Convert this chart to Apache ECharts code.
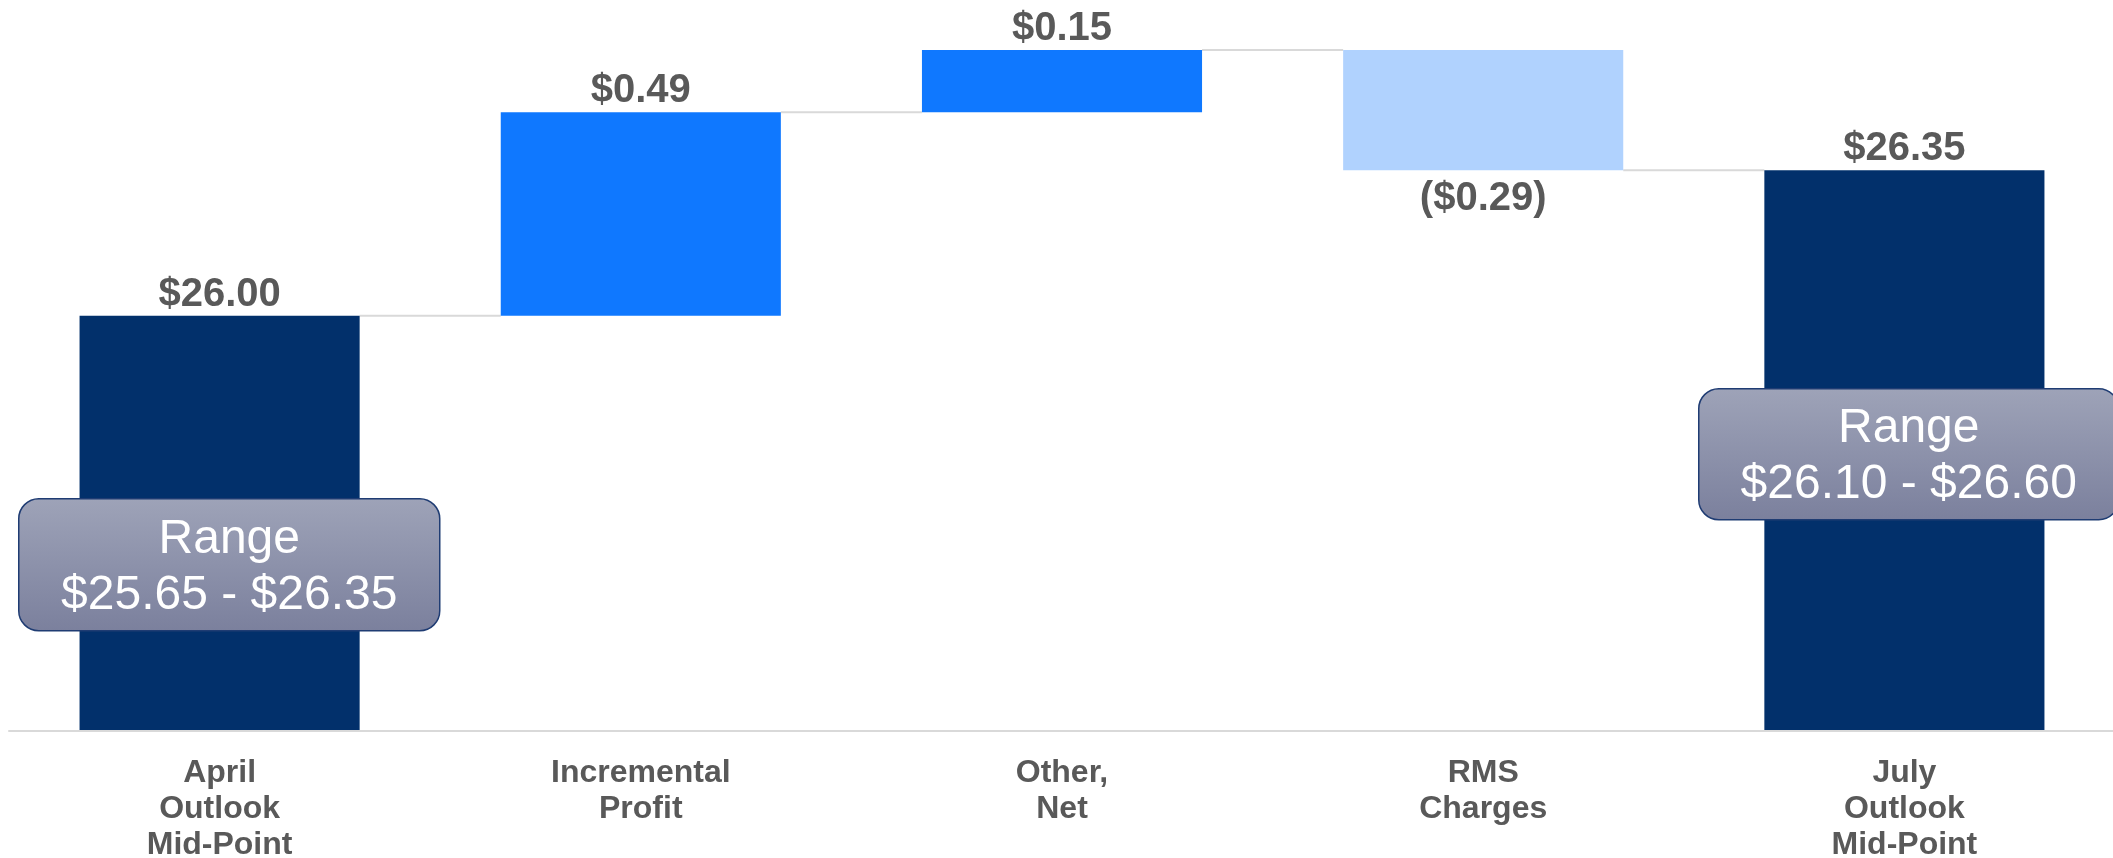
<!DOCTYPE html>
<html>
<head>
<meta charset="utf-8">
<script src="https://cdn.jsdelivr.net/npm/echarts@6/dist/echarts.min.js"></script>
<style>
html,body{margin:0;padding:0;background:#fff;}
#chart{width:2113px;height:858px;}
</style>
</head>
<body>
<div id="chart"></div>
<script>
// ---- data ----
var categories = ['April\nOutlook\nMid-Point', 'Incremental\nProfit', 'Other,\nNet', 'RMS\nCharges', 'July\nOutlook\nMid-Point'];
var changes = [26.00, 0.49, 0.15, -0.29, 26.35];
var isTotal = [true, false, false, false, true];
var rangeLow = [25.65, null, null, null, 26.10];
var rangeHigh = [26.35, null, null, null, 26.60];

// ---- derived waterfall values ----
var FONT = '"Liberation Sans", Arial, sans-serif';
var colors = { total: '#02306B', up: '#0F78FF', down: '#B0D2FE' };
var baseVals = [], barVals = [], levels = [];
var running = 0;
for (var i = 0; i < changes.length; i++) {
  var v = changes[i];
  if (isTotal[i]) {
    baseVals.push(0);
    running = v;
    barVals.push({ value: v, itemStyle: { color: colors.total }, label: { position: 'top', distance: 1 } });
  } else if (v >= 0) {
    baseVals.push(running);
    running = +(running + v).toFixed(2);
    barVals.push({ value: v, itemStyle: { color: colors.up }, label: { position: 'top', distance: 1 } });
  } else {
    running = +(running + v).toFixed(2);
    baseVals.push(running);
    barVals.push({ value: -v, itemStyle: { color: colors.down }, label: { position: 'bottom', distance: 9 } });
  }
  if (i < changes.length - 1) levels.push([i, running]);
}
function fmt(v) {
  var s = '$' + Math.abs(v).toFixed(2);
  return v < 0 ? '(' + s + ')' : s;
}

var BAR_RATIO = 0.665;
var chart = echarts.init(document.getElementById('chart'));
var option = {
  animation: false,
  backgroundColor: '#ffffff',
  grid: { left: 9, right: -2, top: 25, bottom: 127, containLabel: false, outerBoundsMode: 'none' },
  xAxis: {
    type: 'category',
    data: categories,
    axisLine: { show: true, lineStyle: { color: '#D9D9D9', width: 2 } },
    axisTick: { show: false },
    axisLabel: {
      color: '#595959', fontFamily: FONT, fontWeight: 'bold', fontSize: 32,
      lineHeight: 36, margin: 24, interval: 0
    },
    z: 3
  },
  yAxis: {
    type: 'value', min: 25, max: 26.7,
    show: false,
    splitLine: { show: false }
  },
  series: [
    {
      type: 'bar', stack: 'wf', data: baseVals,
      barWidth: (BAR_RATIO * 100) + '%',
      itemStyle: { color: 'rgba(0,0,0,0)' },
      silent: true
    },
    {
      type: 'bar', stack: 'wf',
      data: barVals,
      barWidth: (BAR_RATIO * 100) + '%',
      label: {
        show: true, color: '#595959', fontFamily: FONT, fontWeight: 'bold', fontSize: 40,
        formatter: function (p) { return fmt(changes[p.dataIndex]); }
      }
    },
    {
      type: 'custom',
      data: levels,
      z: 1,
      renderItem: function (params, api) {
        var a = api.coord([api.value(0), api.value(1)]);
        var b = api.coord([api.value(0) + 1, api.value(1)]);
        var half = api.size([1, 0])[0] * BAR_RATIO / 2;
        return {
          type: 'line',
          shape: { x1: a[0] + half, y1: a[1], x2: b[0] - half, y2: b[1] },
          style: { stroke: '#D9D9D9', lineWidth: 2 }
        };
      }
    }
  ]
};
chart.setOption(option);

// ---- range annotation boxes ----
function rangeBox(idx, left, top, w, h) {
  var text = 'Range\n' + fmt(rangeLow[idx]) + ' - ' + fmt(rangeHigh[idx]);
  return {
    type: 'group', left: left, top: top, z: 100,
    children: [
      {
        type: 'rect', z: 100,
        shape: { x: 0, y: 0, width: w, height: h, r: 20 },
        style: {
          fill: new echarts.graphic.LinearGradient(0, 0, 0, 1, [
            { offset: 0, color: '#9EA3B8' },
            { offset: 1, color: '#7B809D' }
          ]),
          stroke: '#1F3C73', lineWidth: 1.5
        }
      },
      {
        type: 'text', z: 101,
        x: w / 2, y: h / 2 + 3,
        style: {
          text: text, fill: '#FFFFFF', font: '48px ' + FONT,
          align: 'center', verticalAlign: 'middle', lineHeight: 56
        }
      }
    ]
  };
}
chart.setOption({
  graphic: {
    elements: [
      rangeBox(0, 18, 498, 421, 132),
      rangeBox(4, 1698, 388, 420, 131)
    ]
  }
});
</script>
</body>
</html>
